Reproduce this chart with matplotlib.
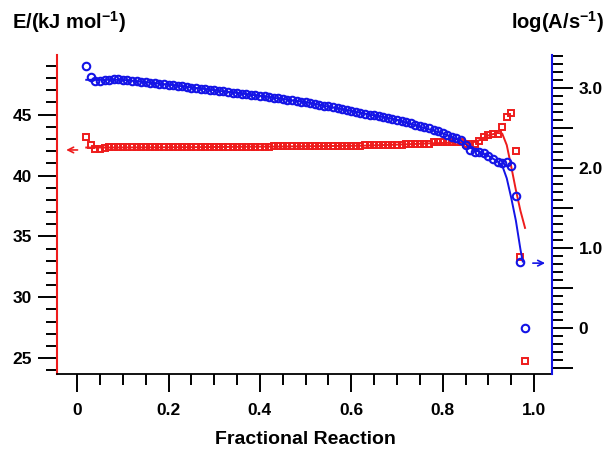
import numpy as np
import matplotlib
matplotlib.use("Agg")
import matplotlib.pyplot as plt
from matplotlib.ticker import MultipleLocator, FuncFormatter

plt.rcParams["font.family"] = ["Liberation Sans", "DejaVu Sans"]
plt.rcParams["font.weight"] = "bold"
plt.rcParams["mathtext.fontset"] = "custom"
plt.rcParams["mathtext.rm"] = "Liberation Sans:bold"
plt.rcParams["mathtext.it"] = "Liberation Sans:bold"
plt.rcParams["mathtext.bf"] = "Liberation Sans:bold"

# Fractional reaction (alpha) grid, 0.02 ... 0.98
alpha = np.round(np.arange(2, 99) / 100.0, 2)

# Activation energy E / (kJ mol^-1)
energy = [
    43.15, 42.50, 42.20, 42.20, 42.25, 42.33, 42.33, 42.33, 42.33, 42.33,
    42.33, 42.33, 42.33, 42.33, 42.33, 42.33, 42.33, 42.33, 42.33, 42.33,
    42.33, 42.33, 42.33, 42.33, 42.36, 42.36, 42.36, 42.36, 42.36, 42.36,
    42.36, 42.36, 42.36, 42.36, 42.36, 42.36, 42.36, 42.36, 42.36, 42.36,
    42.36, 42.43, 42.43, 42.43, 42.43, 42.43, 42.43, 42.43, 42.43, 42.43,
    42.43, 42.43, 42.43, 42.43, 42.43, 42.43, 42.43, 42.43, 42.43, 42.43,
    42.43, 42.53, 42.53, 42.53, 42.53, 42.53, 42.53, 42.53, 42.53, 42.53,
    42.62, 42.62, 42.62, 42.62, 42.62, 42.62, 42.72, 42.72, 42.72, 42.72,
    42.72, 42.72, 42.72, 42.62, 42.55, 42.62, 42.87, 43.14, 43.36, 43.42,
    43.42, 44.00, 44.84, 45.13, 42.00, 33.30, 24.75,
]

# Pre-exponential factor log(A / s^-1)
log_a = [
    3.270, 3.140, 3.090, 3.090, 3.095, 3.100, 3.105, 3.105, 3.100, 3.095,
    3.090, 3.082, 3.075, 3.068, 3.062, 3.056, 3.050, 3.044, 3.038, 3.032,
    3.025, 3.018, 3.010, 3.003, 2.996, 2.990, 2.983, 2.976, 2.969, 2.962,
    2.955, 2.948, 2.941, 2.934, 2.927, 2.920, 2.913, 2.906, 2.899, 2.892,
    2.885, 2.878, 2.870, 2.862, 2.854, 2.846, 2.838, 2.829, 2.820, 2.810,
    2.800, 2.789, 2.778, 2.767, 2.756, 2.745, 2.734, 2.722, 2.710, 2.699,
    2.688, 2.677, 2.666, 2.655, 2.644, 2.633, 2.621, 2.609, 2.596, 2.583,
    2.569, 2.555, 2.540, 2.525, 2.509, 2.492, 2.474, 2.455, 2.435, 2.413,
    2.390, 2.370, 2.350, 2.290, 2.225, 2.200, 2.200, 2.180, 2.150, 2.110,
    2.070, 2.060, 2.070, 2.020, 1.650, 0.830, 0.000,
]

# Smoothed trend curves
energy_fit_x = [0.02, 0.06, 0.25, 0.43, 0.62, 0.71, 0.77, 0.84, 0.86, 0.88,
                0.90, 0.92, 0.93, 0.94, 0.95, 0.96, 0.97, 0.98]
energy_fit_y = [42.30, 42.30, 42.33, 42.38, 42.45, 42.55, 42.64, 42.72, 42.65,
                42.90, 43.30, 43.50, 43.45, 42.50, 40.70, 38.80, 37.10, 35.70]

log_a_fit_x = [0.02, 0.05, 0.10, 0.20, 0.30, 0.40, 0.50, 0.60, 0.70, 0.80,
               0.84, 0.86, 0.88, 0.90, 0.92, 0.93, 0.94, 0.95, 0.96, 0.97, 0.975]
log_a_fit_y = [3.10, 3.10, 3.10, 3.04, 2.97, 2.90, 2.82, 2.71, 2.60, 2.43,
               2.34, 2.25, 2.20, 2.15, 2.08, 2.03, 1.87, 1.62, 1.34, 0.98, 0.83]

RED = "#ee1c1c"
BLUE = "#1414e6"

W, H = 610, 453
fig = plt.figure(figsize=(W / 100, H / 100), dpi=100)
x0, x1, y_top, y_bot = 57, 552, 55, 374
ax = fig.add_axes([x0 / W, 1 - y_bot / H, (x1 - x0) / W, (y_bot - y_top) / H])
ax2 = ax.twinx()

ax.plot(energy_fit_x, energy_fit_y, color=RED, lw=1.4, zorder=2)
ax.plot(alpha, energy, ls="none", marker="s", ms=5.0, mfc="none",
        mec=RED, mew=1.4, zorder=3)
ax2.plot(log_a_fit_x, log_a_fit_y, color=BLUE, lw=1.4, zorder=2)
ax2.plot(alpha, log_a, ls="none", marker="o", ms=5.4, mfc="none",
         mec=BLUE, mew=1.5, zorder=3)

ax.set_xlim(-0.044, 1.039)
ax.set_ylim(23.7, 49.9)
ax2.set_ylim(-0.575, 3.41)

# spines
for a in (ax, ax2):
    a.spines["top"].set_visible(False)
ax.spines["right"].set_visible(False)
ax2.spines["left"].set_visible(False)
ax2.spines["bottom"].set_visible(False)
ax.spines["left"].set_color(RED)
ax.spines["left"].set_linewidth(1.5)
ax.spines["bottom"].set_color("black")
ax.spines["bottom"].set_linewidth(1.3)
ax2.spines["right"].set_color(BLUE)
ax2.spines["right"].set_linewidth(1.5)

# ticks
ax.xaxis.set_major_locator(MultipleLocator(0.2))
ax.xaxis.set_minor_locator(MultipleLocator(0.05))
ax.xaxis.set_major_formatter(FuncFormatter(lambda v, p: "0" if abs(v) < 1e-9 else f"{v:.1f}"))
ax.yaxis.set_major_locator(MultipleLocator(5))
ax.yaxis.set_minor_locator(MultipleLocator(1))
ax2.yaxis.set_major_locator(MultipleLocator(0.5))
ax2.yaxis.set_minor_locator(MultipleLocator(0.1))


def right_fmt(v, p):
    if abs(v) < 1e-9:
        return "0"
    if abs(v - round(v)) < 1e-9:
        return f"{v:.1f}"
    return ""


ax2.yaxis.set_major_formatter(FuncFormatter(right_fmt))

ax.tick_params(axis="x", which="major", direction="out", length=13, width=1.4,
               pad=8, labelsize=12.5)
ax.tick_params(axis="x", which="minor", direction="out", length=8, width=1.4)
ax.tick_params(axis="y", which="major", direction="out", length=14, width=1.4,
               pad=4, labelsize=12.5)
ax.tick_params(axis="y", which="minor", direction="out", length=8, width=1.4)
ax2.tick_params(axis="y", which="major", direction="out", length=15, width=1.4,
                pad=4, labelsize=12.5)
ax2.tick_params(axis="y", which="minor", direction="out", length=8, width=1.4)
for lab in ax.get_xticklabels() + ax.get_yticklabels() + ax2.get_yticklabels():
    lab.set_fontweight("bold")

# direction arrows
ax.annotate("", xy=(-0.030, 42.1), xytext=(0.007, 42.1),
            arrowprops=dict(arrowstyle="->", color=RED, lw=1.2))
ax2.annotate("", xy=(1.030, 0.81), xytext=(0.991, 0.81),
             arrowprops=dict(arrowstyle="->", color=BLUE, lw=1.2),
             annotation_clip=False)

# axis titles
fig.text(12 / W, 1 - 22 / H, "E/(kJ mol$^{-1}$)", fontsize=14.5, fontweight="bold",
         ha="left", va="center")
fig.text(604 / W, 1 - 22 / H, "log(A/s$^{-1}$)", fontsize=14.5, fontweight="bold",
         ha="right", va="center")
fig.text(305 / W, 1 - 440 / H, "Fractional Reaction", fontsize=14,
         fontweight="bold", ha="center", va="center")

fig.savefig("out.png", dpi=100)
